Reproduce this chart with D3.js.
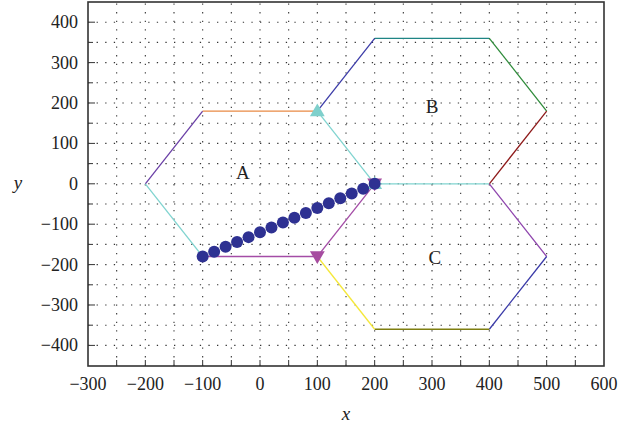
<!DOCTYPE html>
<html>
<head>
<meta charset="utf-8">
<script src="https://cdn.jsdelivr.net/npm/d3@7"></script>
<style>
  body { margin: 0; background: #fff; }
  text { font-family: "Liberation Serif", "DejaVu Serif", serif; fill: #222; }
</style>
</head>
<body>
<script>
// Axis ticks
const xTicks = [-300, -200, -100, 0, 100, 200, 300, 400, 500, 600];
const yTicks = [-400, -300, -200, -100, 0, 100, 200, 300, 400];
const xGrid = [-250, -200, -150, -100, -50, 0, 50, 100, 150, 200, 250, 300, 350, 400, 450, 500, 550];
const yGrid = [-400, -350, -300, -250, -200, -150, -100, -50, 0, 50, 100, 150, 200, 250, 300, 350, 400];

// Hexagon edges [x1, y1, x2, y2]
const edges = [
  [-200, 0, -100, 180], [-100, 180, 100, 180], [100, 180, 200, 0],
  [200, 0, 100, -180], [100, -180, -100, -180], [-100, -180, -200, 0],
  [100, 180, 200, 360], [200, 360, 400, 360], [400, 360, 500, 180],
  [500, 180, 400, 0], [400, 0, 200, 0],
  [400, 0, 500, -180], [500, -180, 400, -360], [400, -360, 200, -360],
  [200, -360, 100, -180]
];
const edgeColors = [
  "#6a3fa6", "#e98a45", "#80d4d0",
  "#a44ca6", "#a44ca6", "#80d4d0",
  "#3c3ca8", "#1f8585", "#2e8b3a",
  "#8e1a1a", "#80d4d0",
  "#8e44ad", "#3a3aa8", "#7f7f10",
  "#f5e83a"
];

// Path points (circles)
const dotX = [-100, -80, -60, -40, -20, 0, 20, 40, 60, 80, 100, 120, 140, 160, 180, 200];
const dotY = [-180, -168, -156, -144, -132, -120, -108, -96, -84, -72, -60, -48, -36, -24, -12, 0];

// Triangle markers
const upMarks = [[200, 0], [100, 180]];
const downMarks = [[200, 0], [100, -180]];

// Region labels
const regionNames = ["A", "B", "C"];
const regionX = [-30, 300, 305];
const regionY = [30, 192, -180];

const width = 638, height = 428;
const margin = {left: 88, right: 34, top: 2, bottom: 62};

const svg = d3.select("body").append("svg")
  .attr("width", width)
  .attr("height", height);

const x = d3.scaleLinear().domain([-300, 600]).range([margin.left, width - margin.right]);
const y = d3.scaleLinear().domain([-451, 450]).range([height - margin.bottom, margin.top]);

// Dotted grid
svg.append("g").selectAll("line.gx")
  .data(xGrid).enter().append("line")
  .attr("x1", d => x(d)).attr("x2", d => x(d))
  .attr("y1", y.range()[0]).attr("y2", y.range()[1])
  .style("stroke", "#333").style("stroke-width", 1.1)
  .style("stroke-dasharray", "1.3,7.3");
svg.append("g").selectAll("line.gy")
  .data(yGrid).enter().append("line")
  .attr("y1", d => y(d)).attr("y2", d => y(d))
  .attr("x1", x.range()[0]).attr("x2", x.range()[1])
  .style("stroke", "#333").style("stroke-width", 1.1)
  .style("stroke-dasharray", "1.3,7.3");

// Inward ticks
svg.append("g").selectAll("line")
  .data(xGrid).enter().append("line")
  .attr("x1", d => x(d)).attr("x2", d => x(d))
  .attr("y1", y.range()[0]).attr("y2", y.range()[0] - 6)
  .style("stroke", "#333").style("stroke-width", 1);
svg.append("g").selectAll("line")
  .data(yGrid).enter().append("line")
  .attr("y1", d => y(d)).attr("y2", d => y(d))
  .attr("x1", x.range()[0]).attr("x2", d => x.range()[0] + (d % 100 === 0 ? 7 : 5))
  .style("stroke", "#333").style("stroke-width", 1);

// Frame
svg.append("rect")
  .attr("x", x.range()[0]).attr("y", y.range()[1])
  .attr("width", x.range()[1] - x.range()[0])
  .attr("height", y.range()[0] - y.range()[1])
  .style("fill", "none").style("stroke", "#333").style("stroke-width", 1.6);

// Tick labels
const fmt = d => d < 0 ? "\u2212" + Math.abs(d) : String(d);
svg.append("g").selectAll("text")
  .data(xTicks).enter().append("text")
  .attr("x", d => x(d)).attr("y", y.range()[0] + 24)
  .attr("text-anchor", "middle")
  .style("font-size", "18px")
  .text(fmt);
svg.append("g").selectAll("text")
  .data(yTicks).enter().append("text")
  .attr("x", x.range()[0] - 10).attr("y", d => y(d) + 6)
  .attr("text-anchor", "end")
  .style("font-size", "18px")
  .text(fmt);

// Axis titles
svg.append("text").attr("x", 346).attr("y", 420)
  .attr("text-anchor", "middle").style("font-style", "italic").style("font-size", "19px").text("x");
svg.append("text").attr("x", 18).attr("y", 189)
  .attr("text-anchor", "middle").style("font-style", "italic").style("font-size", "19px").text("y");

// Hexagon edges
svg.append("g").selectAll("line")
  .data(edges).enter().append("line")
  .attr("x1", d => x(d[0])).attr("y1", d => y(d[1]))
  .attr("x2", d => x(d[2])).attr("y2", d => y(d[3]))
  .style("stroke", (d, i) => edgeColors[i])
  .style("stroke-width", 1.3);

// Triangles
const tri = d3.symbol().type(d3.symbolTriangle).size(95);
svg.append("g").selectAll("path")
  .data(downMarks).enter().append("path")
  .attr("d", tri)
  .attr("transform", d => `translate(${x(d[0])},${y(d[1]) - 1}) rotate(180)`)
  .style("fill", "#a64ca0");
svg.append("g").selectAll("path")
  .data(upMarks).enter().append("path")
  .attr("d", tri)
  .attr("transform", d => `translate(${x(d[0])},${y(d[1]) + 1})`)
  .style("fill", "#7fd0cc");

// Circles
svg.append("g").selectAll("circle")
  .data(dotX).enter().append("circle")
  .attr("cx", d => x(d))
  .attr("cy", (d, i) => y(dotY[i]))
  .attr("r", 6)
  .style("fill", "#2e3192");

// Region labels
svg.append("g").selectAll("text")
  .data(regionNames).enter().append("text")
  .attr("x", (d, i) => x(regionX[i]))
  .attr("y", (d, i) => y(regionY[i]) + 7)
  .attr("text-anchor", "middle")
  .style("font-size", "19px")
  .text(d => d);
</script>
</body>
</html>
